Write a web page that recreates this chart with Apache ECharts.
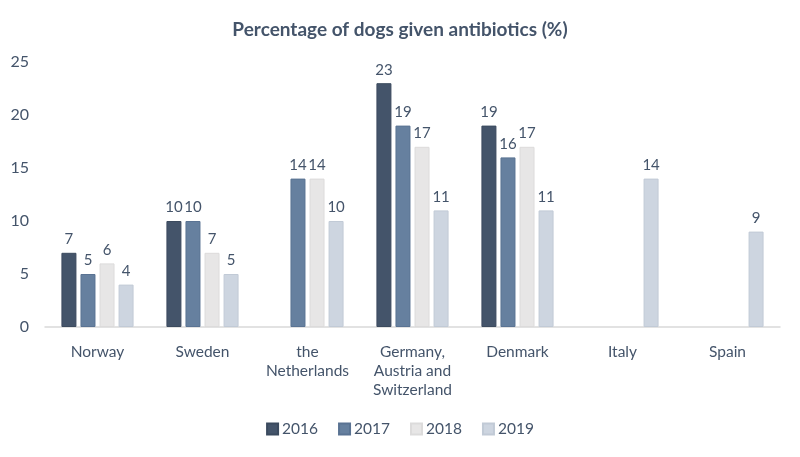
<!DOCTYPE html>
<html><head><meta charset="utf-8">
<script src="https://cdn.jsdelivr.net/npm/echarts@6/dist/echarts.min.js"></script>
<style>html,body{margin:0;padding:0;background:#fff}#c{width:800px;height:457px}</style>
</head><body><div id="c"></div>
<script>
const categories = ['Norway','Sweden','the\nNetherlands','Germany,\nAustria and\nSwitzerland','Denmark','Italy','Spain'];
const years = ['2016','2017','2018','2019'];
const s2016 = [7,10,null,23,19,null,null];
const s2017 = [5,10,14,19,16,null,null];
const s2018 = [6,7,14,17,17,null,null];
const s2019 = [4,5,10,11,11,14,9];
const yTicks = [0,5,10,15,20,25];
const colors = ['#44546A','#66809F','#E7E6E6','#CDD5E0'];
const borders = ['#3b4a5e','#5a7393','#dcdbdb','#c1cad6'];
const font = 'Lato, "Open Sans", sans-serif';
const txt = '#44546A';
const chart = echarts.init(document.getElementById('c'));
const data = [s2016,s2017,s2018,s2019];
chart.setOption({
  animation:false,
  textStyle:{fontFamily:font},
  title:{text:'Percentage of dogs given antibiotics (%)',left:'center',top:15,
    textStyle:{fontFamily:font,fontSize:19,fontWeight:'bold',color:'#44546A'}},
  legend:{bottom:15,left:'center',itemWidth:11,itemHeight:11,itemGap:20,icon:'rect',
    textStyle:{fontFamily:font,fontSize:15.5,color:txt,padding:[0,0,0,-1]}},
  grid:{left:45,right:20,top:62,bottom:130},
  xAxis:{type:'category',data:categories,
    axisLine:{lineStyle:{color:'#D9D9D9',width:1.5}},axisTick:{show:false},
    axisLabel:{fontFamily:font,fontSize:15.5,color:txt,margin:15,lineHeight:19,interval:0}},
  yAxis:{type:'value',min:yTicks[0],max:yTicks[yTicks.length-1],interval:5,
    splitLine:{show:false},axisLine:{show:false},axisTick:{show:false},
    axisLabel:{fontFamily:font,fontSize:16,color:txt,margin:16}},
  series: years.map((y,i)=>({
    name:y,type:'bar',data:data[i],barWidth:15,barGap:'27%',
    itemStyle:{color:colors[i],borderColor:borders[i],borderWidth:1},
    label:{show:true,position:'top',distance:6,fontFamily:font,fontSize:15,color:txt}
  }))
});
</script></body></html>
